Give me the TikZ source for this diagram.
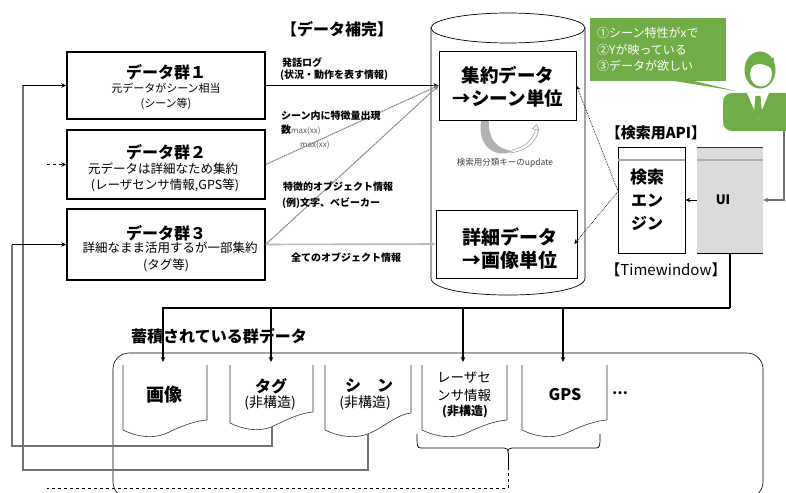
\documentclass[tikz,border=0pt]{standalone}
\usepackage{fontspec}
\setmainfont{Noto Sans CJK JP}
\usetikzlibrary{arrows.meta}
\definecolor{grn}{HTML}{70AD47}
\newcommand\setfs[1]{\fontsize{#1}{#1}\selectfont}

\tikzset{
  t/.style={inner sep=0pt, anchor=center},
  tl/.style={inner sep=0pt, anchor=west},
  grp/.style={draw, line width=1.4pt, inner sep=0pt, minimum width=198pt},
  ibox/.style={draw, line width=0.8pt, fill=white, inner sep=0pt},
  grptitle/.style={t, font=\setfs{16}\bfseries},
  grpline/.style={t, font=\setfs{#1}},
  bigtxt/.style={t, font=\setfs{#1}\bfseries},
  main/.style={line width=1.4pt},
  feed/.style={draw=black!55, line width=1.3pt},
  diag/.style={draw=black!50, line width=1pt, dash pattern=on 1.6pt off 0.6pt},
  dotk/.style={line width=0.7pt, densely dotted},
  bus/.style={line width=1.5pt},
  docline/.style={line width=0.6pt, draw=black!80},
  lab/.style={tl, font=\setfs{10}\bfseries},
  pics/docw/.style n args={3}{code={
    \draw[docline] (0,0) -- (0,#2)
      .. controls (0.22*#1,#2+9) and (0.42*#1,#2+8) .. (0.55*#1,#2+2)
      .. controls (0.7*#1,#2-4) and (0.85*#1,#3+1) .. (#1,#3) -- (#1,0);
  }},
}

\begin{document}
\begin{tikzpicture}[x=1pt, y=-1pt, >={Stealth[length=5pt,width=4.5pt]}]
\useasboundingbox (0,0) rectangle (786,492);
\clip (0,0) rectangle (786,492);
\fill[white] (0,0) rectangle (786,492);

% ---------- title ----------
\node[bigtxt=16] (title) at (337,29) {【データ補完】};

% ---------- data groups ----------
\node[grp, minimum height=67pt] (g1) at (166,85.5) {};
\node[grptitle] (g1a) at (166,72) {データ群１};
\node[grpline=11] (g1b) at (166,88) {元データがシーン相当};
\node[grpline=11] (g1c) at (166,104) {(シーン等)};

\node[grp, minimum height=69pt] (g2) at (166,164.5) {};
\node[grptitle] (g2a) at (166,152) {データ群２};
\node[grpline=12.5] (g2b) at (163,169) {元データは詳細なため集約};
\node[grpline=12.5] (g2c) at (165,185) {(レーザセンサ情報,GPS等)};

\node[grp, minimum height=71pt] (g3) at (166,244.5) {};
\node[grptitle] (g3a) at (166,233) {データ群３};
\node[grpline=12.5] (g3b) at (170,248) {詳細なまま活用するが一部集約};
\node[grpline=12.5] (g3c) at (166,265) {(タグ等)};

% ---------- storage cylinder ----------
\draw[line width=0.7pt] (431,28) -- (431,278)
  .. controls (431,300.7) and (585,300.7) .. (585,278) -- (585,28);
\draw[line width=0.7pt, fill=white] (508,28) ellipse [x radius=77, y radius=15];

\node[ibox, minimum width=137pt, minimum height=69pt] (agg) at (507.5,85.5) {};
\node[bigtxt=18.5] (agga) at (508,75) {集約データ};
\node[bigtxt=18.5] (aggb) at (508,98) {→シーン単位};

\node[ibox, minimum width=141pt, minimum height=68pt] (det) at (506.5,244) {};
\node[bigtxt=19] (deta) at (510,237) {詳細データ};
\node[bigtxt=19] (detb) at (510,260) {→画像単位};

% update loop below the aggregate box
\fill[gray!60] (481,121) .. controls (477,151) and (500,158) .. (513,151)
  .. controls (497,149) and (488,140) .. (489,121) -- cycle;
\draw[gray!75, line width=0.6pt, -{Triangle[open,length=6pt,width=7pt]}]
  (512,150) .. controls (527,147) and (533,138) .. (537,124);
\draw[gray!75, line width=0.6pt] (510,153) .. controls (530,150) and (537,140) .. (539,128);
\node[t, font=\setfs{8.5}, text=black!75] (upd) at (505,163) {検索用分類キーのupdate};

% ---------- connectors into the cylinder ----------
\coordinate (conv) at (agg.west);
\draw[main, ->] (g1.east) -- (conv);
\draw[diag, ->] (g2.east) -- (conv);
\draw[diag, ->] (g3.east) -- (conv);
\draw[draw=gray!55, line width=1.6pt, ->] (g3.east) -- (det.west);

\node[lab] (l1) at (282,63) {発話ログ};
\node[lab] (l2) at (280,75) {(状況・動作を表す情報)};
\node[lab] (l3) at (281,116) {シーン内に特徴量出現};
\node[lab] (l4) at (281,130) {数{\mdseries\setfs{8}\color{gray!70!black}max(xx)}};
\node[tl, font=\setfs{8}, text=gray!70!black] (l5) at (300,145) {max(xx)};
\node[lab] (l6) at (283,187) {特徴的オブジェクト情報};
\node[lab] (l7) at (282,203) {(例)文字、ベビーカー};
\node[t, font=\setfs{10}\bfseries] (l8) at (346,258) {全てのオブジェクト情報};

% ---------- search side ----------
\node[t, font=\setfs{15}\bfseries] (apilab) at (656,133) {【検索用API】};
\node[draw, line width=0.8pt, inner sep=0pt, minimum width=67pt, minimum height=106pt] (eng) at (651.5,200) {};
\draw[gray!70, line width=1.5pt] (618,160) -- (685,160);
\node[t, font=\setfs{17}\bfseries] (enga) at (647,177) {検索};
\node[t, font=\setfs{16}\bfseries] (engb) at (647,201) {エン};
\node[t, font=\setfs{16}\bfseries] (engc) at (647,223) {ジン};

\node[fill=gray!28, inner sep=0pt, minimum width=66pt, minimum height=106pt] (ui) at (730,200) {};
\draw[black!80, line width=0.6pt] (697,147) -- (763,147);
\draw[gray!65, line width=1.5pt] (697,160) -- (763,160);
\draw[black, line width=1pt] (697,253) -- (763,253);
\node[t, font=\setfs{13}\bfseries] (uitxt) at (723,200) {UI};
\node[t, font=\setfs{15}] (twlab) at (666,270) {【Timewindow】};

\draw[line width=1pt, ->] (ui.west) -- (eng.east);
\draw[dotk, ->] ([yshift=10pt]eng.west) -- (agg.east);
\draw[dotk, ->] ([yshift=8pt]eng.west) -- ([xshift=-3pt]det.east);

% ---------- user and request ----------
\node[fill=grn, inner sep=0pt, minimum width=136pt, minimum height=63pt] (bub) at (658,49.5) {};
\fill[grn] (668,80) -- (690,80) -- (736,91) -- cycle;
\node[tl, font=\setfs{12}, text=white] (q1) at (597,33) {①シーン特性がxで};
\node[tl, font=\setfs{12}, text=white] (q2) at (597,50) {②Yが映っている};
\node[tl, font=\setfs{12}, text=white] (q3) at (597,66) {③データが欲しい};

\fill[grn, rounded corners=9pt] (723,131) -- (723,93) -- (800,93) -- (800,131) -- cycle;
\fill[white] (747,93) -- (758,119) -- (769,93) -- cycle;
\fill[grn] (755.5,96) -- (760.5,96) -- (762,112) -- (758,119) -- (754,112) -- cycle;
\fill[grn] (760,70) ellipse [x radius=15.5, y radius=18.5];
\fill[white] (761,74) ellipse [x radius=11, y radius=12.5];
\fill[grn] (749.5,72) .. controls (751,63) and (761,61) .. (773,69) -- (774,58) -- (749,58) -- cycle;
\coordinate (user) at (784,131);
\draw[draw=black!55, line width=1.5pt, ->] (user) |- (ui.east);

% ---------- distribution bus to stored data ----------
\coordinate (busR) at (730,308);
\coordinate (imgT) at (163,362);
\coordinate (tagT) at (271,362);
\coordinate (lasT) at (463,362);
\coordinate (gpsT) at (563,362);
\draw[bus] (ui.south) -- (busR);
\draw[bus, ->] (busR) -| (imgT);
\draw[bus, ->] (tagT |- busR) -- (tagT);
\draw[bus, ->] (lasT |- busR) -- (lasT);
\draw[bus, ->] (gpsT |- busR) -- (gpsT);

\node[t, font=\setfs{16}\bfseries] (store) at (219,336) {蓄積されている群データ};

% container of the stored data groups
\draw[line width=0.6pt, rounded corners=16pt] (113,353) rectangle (763,498);

% documents
\pic at (123,365) {docw={84}{65}{55}};
\pic at (230,365) {docw={83}{58}{47}};
\pic at (325,365) {docw={86}{65}{48}};
\pic at (422,365) {docw={85}{65}{55}};
\pic at (522,365) {docw={85}{65}{55}};

\node[t, font=\setfs{18}\bfseries] (d1) at (164,395) {画像};
\node[t, font=\setfs{16}\bfseries] (d2a) at (271,386) {タグ};
\node[t, font=\setfs{14}] (d2b) at (270,403) {(非構造)};
\node[t, font=\setfs{16}\bfseries] (d3a) at (369,386) {シ　ン};
\node[t, font=\setfs{14}] (d3b) at (365,403) {(非構造)};
\node[t, font=\setfs{13.5}] (d4a) at (464,378) {レーザセ};
\node[t, font=\setfs{13.5}] (d4b) at (464,395) {ンサ情報};
\node[t, font=\setfs{12}\bfseries] (d4c) at (465,412) {(非構造)};
\node[t, font=\setfs{16}\bfseries] (d5) at (565,395) {GPS};
\node[t, font=\setfs{14}\bfseries] (d6) at (620,393) {…};

% feedback from the stored data to the data groups
\coordinate (tagB) at (272,427);
\coordinate (tagC) at (272,446);
\coordinate (tagD) at (12,446);
\coordinate (sceB) at (368,434);
\coordinate (sceC) at (368,470);
\coordinate (sceD) at (23,470);
\draw[feed] (sceB) -- (sceC) -- (sceD) -- (sceD |- g1.west);
\draw[main, ->] (sceD |- g1.west) -- (g1.west);
\draw[feed] (tagB) -- (tagC) -- (tagD) -- (tagD |- g3.west);
\draw[main, ->] (tagD |- g3.west) -- (g3.west);

% bracket under sensor and GPS data, dashed back to group 2
\draw[line width=0.7pt] (417,434) .. controls (417,446) and (417,448) .. (421,448) -- (504,448)
  .. controls (507,448) and (508,449) .. (508,453)
  .. controls (508,449) and (509,448) .. (512,448) -- (596,448)
  .. controls (600,448) and (600,446) .. (600,434);
\coordinate (brk) at (508,453);
\coordinate (brkA) at (508,467);
\coordinate (brkB) at (508,488);
\coordinate (brkC) at (47,488);
\coordinate (g2in) at (47,164.5);
\draw[line width=0.7pt] (brk) -- (brkA);
\draw[line width=0.8pt, dashed] (brkA) -- (brkB) -- (brkC);
\draw[line width=1.3pt, dashed, ->] (g2in) -- (g2.west);

\end{tikzpicture}
\end{document}
